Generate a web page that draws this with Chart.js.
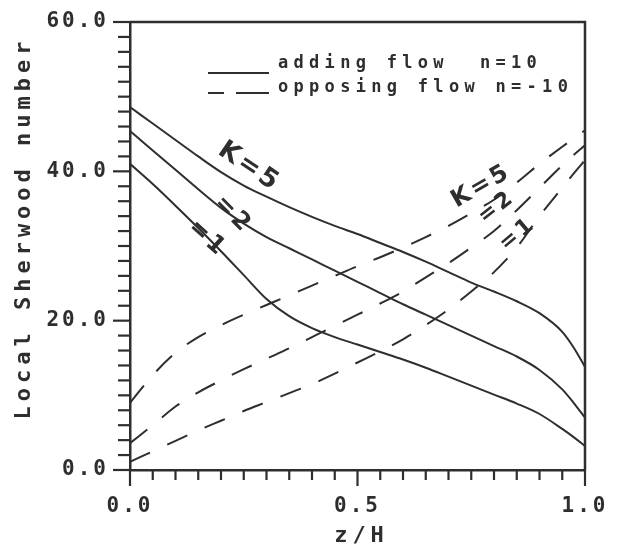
<!DOCTYPE html>
<html>
<head>
<meta charset="utf-8">
<script src="https://cdn.jsdelivr.net/npm/chart.js@4"></script>
<style>
  html, body { margin: 0; padding: 0; background: #fff; }
  #wrap { width: 620px; height: 548px; }
</style>
</head>
<body>
<div id="wrap"><canvas id="sherwood" width="620" height="548"></canvas></div>
<script>
// axial position z/H
var zPos = [0, 0.05, 0.1, 0.15, 0.2, 0.25, 0.3, 0.35, 0.4, 0.45, 0.5,
            0.55, 0.6, 0.65, 0.7, 0.75, 0.8, 0.85, 0.9, 0.95, 0.975, 1.0];

// adding (aiding) flow, n = 10
var addK5 = [48.6, 46.4, 44.2, 42.0, 39.9, 38.1, 36.6, 35.2, 33.9, 32.7, 31.6,
             30.4, 29.2, 27.9, 26.5, 25.1, 23.9, 22.6, 21.0, 18.5, 16.4, 13.8];
var addK2 = [45.4, 42.8, 40.2, 37.6, 35.1, 33.0, 31.2, 29.7, 28.2, 26.7, 25.2,
             23.7, 22.2, 20.8, 19.4, 18.0, 16.6, 15.2, 13.4, 10.8, 9.0, 7.0];
var addK1 = [41.0, 38.3, 35.4, 32.4, 29.3, 26.1, 22.9, 20.6, 19.0, 17.8, 16.8,
             15.8, 14.8, 13.7, 12.5, 11.3, 10.1, 8.9, 7.5, 5.5, 4.4, 3.2];

// opposing flow, n = -10
var oppK5 = [9.0, 12.7, 15.7, 17.8, 19.4, 20.8, 22.1, 23.4, 24.7, 26.0, 27.3,
             28.5, 29.8, 31.2, 32.7, 34.4, 36.2, 38.5, 41.0, 43.3, 44.4, 45.5];
var oppK2 = [3.6, 6.0, 8.5, 10.4, 12.0, 13.5, 14.9, 16.3, 17.8, 19.3, 20.8,
             22.3, 23.9, 25.8, 27.7, 29.8, 32.0, 34.8, 37.8, 40.8, 42.2, 43.5];
var oppK1 = [1.1, 2.5, 3.9, 5.3, 6.6, 7.9, 9.1, 10.3, 11.5, 12.9, 14.4,
             15.9, 17.5, 19.4, 21.5, 23.9, 26.5, 29.8, 34.0, 37.8, 39.7, 41.5];

var legendLabels = ['adding flow  n=10', 'opposing flow n=-10'];
var xTitle = 'z/H';
var yTitle = 'Local Sherwood number';

// curve labels, anchored in data units
var curveNotes = [
    { text: 'K=5', z: 0.262, v: 40.6, rot: 34, size: 26 },
    { text: '=2', z: 0.226, v: 34.2, rot: 45, size: 24 },
    { text: '=1', z: 0.170, v: 31.0, rot: 42, size: 24 },
    { text: 'K=5', z: 0.772, v: 38.0, rot: -30, size: 24 },
    { text: '=2', z: 0.806, v: 35.2, rot: -38, size: 22 },
    { text: '=1', z: 0.852, v: 31.6, rot: -40, size: 22 }
];

var ink = '#2e2e2e';
var dashPattern = [22, 19];
var monoFont = '"DejaVu Sans Mono", monospace';

function toPoints(ys) {
    return zPos.map(function (z, i) { return { x: z, y: ys[i] }; });
}

function curve(label, ys, dashed) {
    return {
        label: label,
        data: toPoints(ys),
        borderColor: ink,
        borderWidth: 2,
        borderDash: dashed ? dashPattern : [],
        pointRadius: 0,
        fill: false,
        cubicInterpolationMode: 'monotone'
    };
}

function line(ctx, x1, y1, x2, y2) {
    ctx.beginPath();
    ctx.moveTo(x1, y1);
    ctx.lineTo(x2, y2);
    ctx.stroke();
}

// frame, tick marks, legend, axis titles and curve labels
var plotterDecor = {
    id: 'plotterDecor',
    beforeDraw: function (chart) {
        chart.ctx.letterSpacing = '3px';
    },
    afterDraw: function (chart) {
        var ctx = chart.ctx;
        var a = chart.chartArea;
        var xs = chart.scales.x, ys = chart.scales.y;
        ctx.save();
        ctx.strokeStyle = ink;
        ctx.lineCap = 'butt';

        ctx.lineWidth = 2.5;
        ctx.beginPath();
        ctx.moveTo(a.left, a.top);
        ctx.lineTo(a.right, a.top);
        ctx.lineTo(a.right, a.bottom);
        ctx.stroke();

        ctx.lineWidth = 2.2;
        ys.ticks.forEach(function (t) {
            var py = ys.getPixelForValue(t.value);
            var len = t.label ? 17 : 12;
            line(ctx, a.left - len, py, a.left, py);
        });
        xs.ticks.forEach(function (t) {
            var px = xs.getPixelForValue(t.value);
            var len = t.label ? 16 : 10;
            line(ctx, px, a.bottom, px, a.bottom + len);
        });

        // legend
        var lx = a.left + 78, ly = a.top + 51;
        ctx.lineWidth = 2;
        line(ctx, lx, ly, lx + 61, ly);
        ctx.setLineDash([16, 12, 33, 0]);
        line(ctx, lx, ly + 20, lx + 61, ly + 20);
        ctx.setLineDash([]);
        ctx.fillStyle = ink;
        ctx.font = 'bold 17px ' + monoFont;
        ctx.letterSpacing = '5.3px';
        ctx.textAlign = 'left';
        ctx.textBaseline = 'alphabetic';
        ctx.fillText(legendLabels[0], lx + 70, ly - 5);
        ctx.fillText(legendLabels[1], lx + 70, ly + 19);

        // axis titles
        ctx.font = 'bold 22px ' + monoFont;
        ctx.letterSpacing = '5px';
        ctx.textAlign = 'center';
        ctx.textBaseline = 'middle';
        ctx.fillText(xTitle, (a.left + a.right) / 2 + 4, 536);
        ctx.save();
        ctx.translate(24, 228);
        ctx.rotate(-Math.PI / 2);
        ctx.fillText(yTitle, 0, 0);
        ctx.restore();

        // curve labels
        ctx.letterSpacing = '3px';
        curveNotes.forEach(function (n) {
            ctx.save();
            ctx.translate(xs.getPixelForValue(n.z), ys.getPixelForValue(n.v));
            ctx.rotate(n.rot * Math.PI / 180);
            ctx.font = 'bold ' + n.size + 'px "DejaVu Sans", sans-serif';
            ctx.fillText(n.text, 0, 0);
            ctx.restore();
        });
        ctx.restore();
    }
};

new Chart(document.getElementById('sherwood').getContext('2d'), {
    type: 'line',
    data: {
        datasets: [
            curve('K=5 adding', addK5, false),
            curve('K=2 adding', addK2, false),
            curve('K=1 adding', addK1, false),
            curve('K=5 opposing', oppK5, true),
            curve('K=2 opposing', oppK2, true),
            curve('K=1 opposing', oppK1, true)
        ]
    },
    options: {
        responsive: false,
        animation: false,
        layout: { padding: { top: 22, right: 35, left: 0, bottom: 0 } },
        plugins: {
            legend: { display: false },
            tooltip: { enabled: false }
        },
        scales: {
            x: {
                type: 'linear',
                min: 0,
                max: 1,
                grid: { display: false, drawTicks: true, tickLength: 16 },
                border: { display: true, color: ink, width: 2.5 },
                ticks: {
                    stepSize: 0.05,
                    autoSkip: false,
                    maxRotation: 0,
                    padding: 8,
                    color: ink,
                    font: { family: monoFont, size: 21, weight: 'bold' },
                    callback: function (v) {
                        return Math.abs(v * 2 - Math.round(v * 2)) < 1e-6 ? v.toFixed(1) : '';
                    }
                },
                afterFit: function (scale) { scale.height = 78; }
            },
            y: {
                min: 0,
                max: 60,
                grid: { display: false, drawTicks: true, tickLength: 17 },
                border: { display: true, color: ink, width: 2.5 },
                ticks: {
                    stepSize: 2,
                    autoSkip: false,
                    padding: 4,
                    color: ink,
                    font: { family: monoFont, size: 21, weight: 'bold' },
                    callback: function (v) {
                        return Math.abs(v % 20) < 1e-6 ? v.toFixed(1) : '';
                    }
                },
                afterFit: function (scale) { scale.width = 130; }
            }
        }
    },
    plugins: [plotterDecor]
});
</script>
</body>
</html>
